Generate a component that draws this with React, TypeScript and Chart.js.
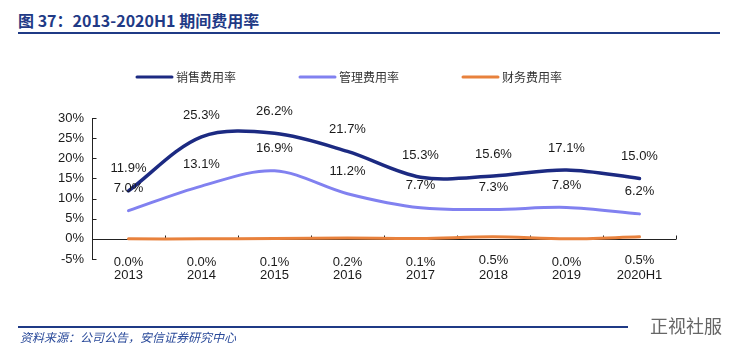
import React, { useEffect, useRef } from "react";
import { Chart, registerables } from "chart.js";

Chart.register(...registerables);

const categories = ["2013", "2014", "2015", "2016", "2017", "2018", "2019", "2020H1"];
const salesRate = [11.9, 25.3, 26.2, 21.7, 15.3, 15.6, 17.1, 15.0];
const adminRate = [7.0, 13.1, 16.9, 11.2, 7.7, 7.3, 7.8, 6.2];
const financeRate = [0.0, 0.0, 0.1, 0.2, 0.1, 0.5, 0.0, 0.5];
const seriesNames = ["销售费用率", "管理费用率", "财务费用率"];
const yMin = -5;
const yMax = 30;
const yStep = 5;

const COLORS = ["#1c2a82", "#8181f0", "#e8813c"];
const FONT = '"Liberation Sans", Arial, sans-serif';

const axisPlugin = {
  id: "zeroAxis",
  beforeDatasetsDraw(chart: any) {
    const { ctx, chartArea, scales } = chart;
    const y0 = Math.round(scales.y.getPixelForValue(0)) + 0.5;
    ctx.save();
    ctx.strokeStyle = "#222";
    ctx.lineWidth = 1;
    ctx.beginPath();
    ctx.moveTo(chartArea.left, y0);
    ctx.lineTo(chartArea.right, y0);
    const n = categories.length;
    const w = (chartArea.right - chartArea.left) / n;
    for (let i = 1; i <= n; i++) {
      const x = Math.round(chartArea.left + w * i) + 0.5;
      ctx.moveTo(x, y0);
      ctx.lineTo(x, y0 - 4);
    }
    // inward y-axis tick marks
    const xl = Math.round(chartArea.left) + 0.5;
    for (let v = yMin; v <= yMax; v += yStep) {
      const yy = Math.round(scales.y.getPixelForValue(v)) + 0.5;
      ctx.moveTo(xl, yy);
      ctx.lineTo(xl + 4, yy);
    }
    ctx.stroke();
    ctx.restore();
  },
};

const labelPlugin = {
  id: "dataLabels",
  afterDatasetsDraw(chart: any) {
    const { ctx } = chart;
    ctx.save();
    ctx.font = `13px ${FONT}`;
    ctx.fillStyle = "#1a1a1a";
    ctx.textAlign = "center";
    ctx.textBaseline = "middle";
    chart.data.datasets.forEach((ds: any, di: number) => {
      const meta = chart.getDatasetMeta(di);
      meta.data.forEach((pt: any, i: number) => {
        const v = ds.data[i] as number;
        const dy = di === 2 ? 24 : -22;
        ctx.fillText(v.toFixed(1) + "%", pt.x, pt.y + dy);
      });
    });
    ctx.restore();
  },
};

const legendPlugin = {
  id: "customLegend",
  afterDraw(chart: any) {
    const { ctx } = chart;
    const starts = [137, 300, 463];
    const y = 77;
    ctx.save();
    ctx.font = `12px "Noto Sans CJK SC", sans-serif`;
    ctx.textBaseline = "middle";
    ctx.textAlign = "left";
    seriesNames.forEach((name, i) => {
      ctx.strokeStyle = COLORS[i];
      ctx.lineWidth = 3;
      ctx.lineCap = "round";
      ctx.beginPath();
      ctx.moveTo(starts[i], y);
      ctx.lineTo(starts[i] + 35, y);
      ctx.stroke();
      ctx.fillStyle = "#333";
      ctx.fillText(name, starts[i] + 39, y);
    });
    ctx.restore();
  },
};

export default function App() {
  const ref = useRef<HTMLCanvasElement>(null);
  useEffect(() => {
    if (!ref.current) return;
    const chart = new Chart(ref.current, {
      type: "line",
      data: {
        labels: categories,
        datasets: [
          { label: seriesNames[0], data: salesRate, borderColor: COLORS[0], borderWidth: 3.5 },
          { label: seriesNames[1], data: adminRate, borderColor: COLORS[1], borderWidth: 3 },
          { label: seriesNames[2], data: financeRate, borderColor: COLORS[2], borderWidth: 3 },
        ].map((d) => ({
          ...d,
          backgroundColor: d.borderColor,
          tension: 0.33,
          pointRadius: 0,
          fill: false,
          borderCapStyle: "round" as const,
        })),
      },
      options: {
        animation: false,
        responsive: false,
        maintainAspectRatio: false,
        layout: { padding: { top: 118, left: 40, right: 62, bottom: 70 } },
        plugins: { legend: { display: false }, tooltip: { enabled: false }, title: { display: false } },
        scales: {
          x: {
            offset: true,
            grid: { display: false, drawTicks: false },
            border: { display: false },
            ticks: { padding: 9, color: "#1a1a1a", font: { family: FONT, size: 13 }, maxRotation: 0, autoSkip: false },
            afterFit: (s: any) => { s.height = 30; },
          },
          y: {
            min: yMin,
            max: yMax,
            grid: { display: false, drawTicks: false },
            border: { display: true, color: "#222", width: 1 },
            ticks: {
              stepSize: yStep,
              padding: 8,
              color: "#1a1a1a",
              font: { family: FONT, size: 13 },
              callback: (v: any) => `${v}%`,
            },
            afterFit: (s: any) => { s.width = 52; },
          },
        },
      },
      plugins: [axisPlugin, labelPlugin, legendPlugin],
    });
    return () => chart.destroy();
  }, []);

  return (
    <div style={{ position: "fixed", left: 0, top: 0, width: 738, height: 359, background: "#fff", overflow: "hidden" }}>
      <div
        style={{
          position: "absolute", left: 18, top: 9, fontFamily: '"Noto Sans CJK SC", "Liberation Sans", sans-serif',
          fontWeight: 700, fontSize: 16, color: "#1f3a86", whiteSpace: "nowrap", lineHeight: "22px",
        }}
      >
        图 37：2013-2020H1 期间费用率
      </div>
      <div style={{ position: "absolute", left: 18, top: 32, width: 702, height: 2, background: "#1f3a86" }} />
      <canvas ref={ref} width={738} height={359} style={{ position: "absolute", left: 0, top: 0 }} />
      <div style={{ position: "absolute", left: 18, top: 326, width: 610, height: 1.5, background: "#1f3a86" }} />
      <div
        style={{
          position: "absolute", left: 20, top: 329, fontFamily: '"Noto Sans CJK SC", sans-serif', fontStyle: "italic",
          fontSize: 12, color: "#2a4a9a", whiteSpace: "nowrap", lineHeight: "16px",
        }}
      >
        资料来源：公司公告，安信证券研究中心
      </div>
      <div
        style={{
          position: "absolute", left: 650, top: 313, fontFamily: '"Noto Sans CJK SC", sans-serif',
          fontSize: 18, color: "#666", whiteSpace: "nowrap", lineHeight: "24px",
        }}
      >
        正视社服
      </div>
    </div>
  );
}
